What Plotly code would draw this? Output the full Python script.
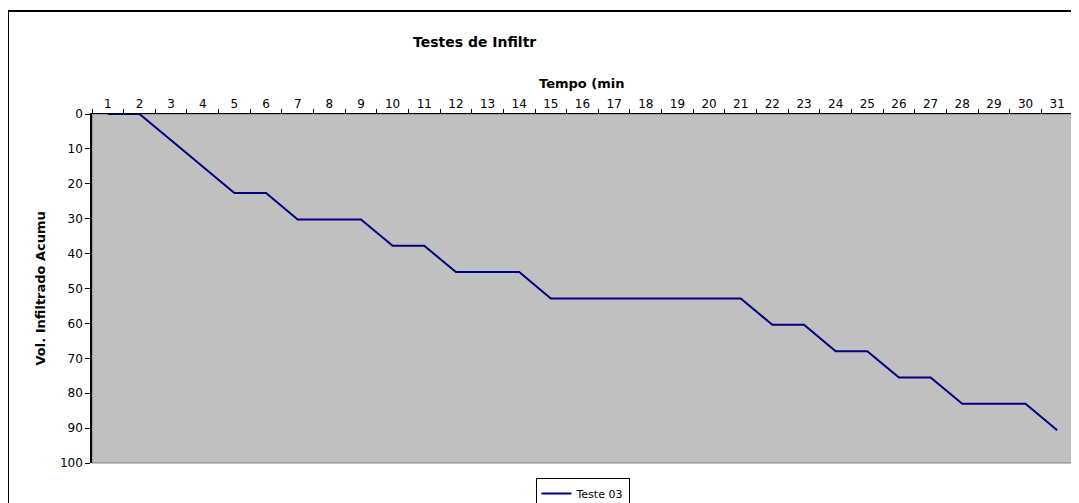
import plotly.graph_objects as go

tempo = [str(i) for i in range(1, 32)]
vol = [0, 0, 7.55, 15.1, 22.65, 22.65, 30.2, 30.2, 30.2, 37.75, 37.75, 45.3, 45.3, 45.3,
       52.85, 52.85, 52.85, 52.85, 52.85, 52.85, 52.85, 60.4, 60.4, 67.95, 67.95,
       75.5, 75.5, 83.05, 83.05, 83.05, 90.6]
y_ticks = list(range(0, 101, 10))

font_family = "DejaVu Sans, Verdana, sans-serif"

# page body has an 8px margin: figure is drawn at (8, 8)
PW, PH = 981, 349

fig = go.Figure()
fig.add_trace(go.Scatter(x=tempo, y=vol, mode="lines", name="Teste 03",
                         line=dict(color="#000080", width=2)))

fig.update_layout(
    width=1071, height=495,
    margin=dict(l=84, r=6, t=106, b=40, autoexpand=False),
    paper_bgcolor="white",
    plot_bgcolor="#C0C0C0",
    font=dict(family=font_family, size=12, color="black"),
    showlegend=True,
    legend=dict(orientation="h", x=0.5, xanchor="center", y=-15 / PH, yanchor="top",
                bordercolor="black", borderwidth=1, bgcolor="white",
                font=dict(size=11), itemwidth=30, tracegroupgap=0),
    xaxis=dict(type="category", side="top", tickson="boundaries", ticks="outside",
               ticklen=4, tickcolor="black", showline=True, linecolor="black",
               linewidth=1, showgrid=False, zeroline=False, automargin=False,
               range=[-0.5, 30.5], tickfont=dict(size=12)),
    yaxis=dict(range=[100, 0], tickvals=y_ticks, ticks="outside", ticklen=5,
               tickcolor="black", showline=True, linecolor="black", linewidth=1.5,
               showgrid=False, zeroline=False, automargin=False,
               tickfont=dict(size=12)),
    shapes=[
        dict(type="rect", xref="paper", yref="paper", x0=0, x1=1, y0=0, y1=1,
             line=dict(color="#808080", width=1), layer="below"),
        dict(type="line", xref="paper", yref="paper",
             x0=-84 / PW, x1=1.1, y0=1 + 103 / PH, y1=1 + 103 / PH,
             line=dict(color="black", width=2)),
        dict(type="line", xref="paper", yref="paper",
             x0=-84 / PW, x1=-84 / PW, y0=1 + 103 / PH, y1=-0.2,
             line=dict(color="black", width=2)),
    ],
    annotations=[
        dict(text="<b>Testes de Infiltr</b>", xref="paper", yref="paper",
             x=(411 - 92) / PW, y=1, xanchor="left", yanchor="middle",
             yshift=72, showarrow=False, font=dict(size=14)),
        dict(text="<b>Tempo (min</b>", xref="paper", yref="paper",
             x=(537 - 92) / PW, y=1, xanchor="left", yanchor="middle",
             yshift=31, showarrow=False, font=dict(size=13)),
        dict(text="<b>Vol. Infiltrado Acumu</b>", xref="paper", yref="paper",
             x=0, y=0.5, xanchor="center", yanchor="middle", xshift=-52,
             textangle=-90, showarrow=False, font=dict(size=13)),
    ],
)

fig.write_html("out.html")
